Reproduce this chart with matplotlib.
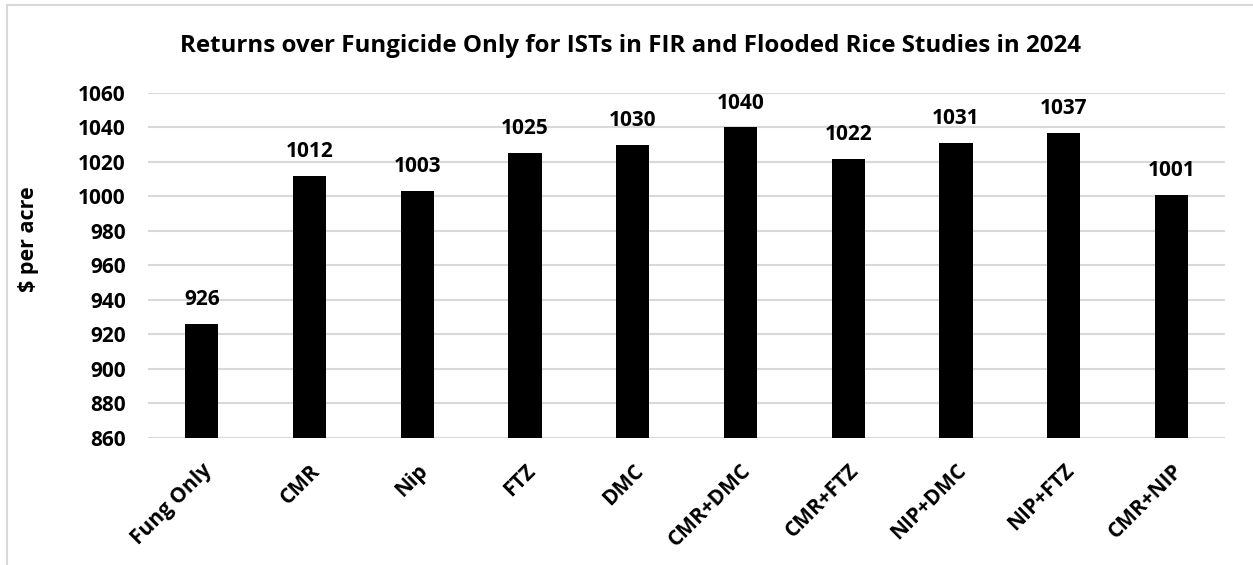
import matplotlib
matplotlib.use("Agg")
import matplotlib.pyplot as plt
from matplotlib.patches import Rectangle

categories = ["Fung Only", "CMR", "Nip", "FTZ", "DMC", "CMR+DMC",
              "CMR+FTZ", "NIP+DMC", "NIP+FTZ", "CMR+NIP"]
returns = [926, 1012, 1003, 1025, 1030, 1040, 1022, 1031, 1037, 1001]
yticks = list(range(860, 1061, 20))

plt.rcParams['font.family'] = ['Open Sans', 'DejaVu Sans']
plt.rcParams['font.weight'] = 'bold'

fig = plt.figure(figsize=(12.53, 5.65), dpi=100)
ax = fig.add_axes([0.118, 0.2248, 0.86, 0.6106])

# outer chart frame
fig.patches.append(Rectangle((7 / 1253, -0.1), 1.2, 1 - 5 / 565 + 0.1,
                             transform=fig.transFigure, fill=False,
                             edgecolor='#d9d9d9', linewidth=1.5))

x = list(range(len(categories)))
ax.bar(x, returns, width=0.31, color='black', zorder=3)
for xi, v in zip(x, returns):
    ax.annotate(f"{v}", (xi, v), xytext=(0, 10), textcoords='offset points',
                ha='center', va='bottom', fontsize=15, fontweight='bold')

ax.set_xlim(-0.5, len(categories) - 0.5)
ax.set_ylim(860, 1060)
ax.set_yticks(yticks)
ax.set_yticklabels([str(t) for t in yticks], fontsize=15, fontweight='bold')
ax.set_xticks(x)
ax.set_xticklabels(categories, rotation=45, ha='right', rotation_mode='anchor',
                   fontsize=15, fontweight='bold')
ax.tick_params(axis='y', length=0, pad=16)
ax.tick_params(axis='x', length=0, pad=16)
ax.grid(axis='y', color='#d9d9d9', linewidth=1.5, zorder=0)
for s in ax.spines.values():
    s.set_visible(False)

ax.set_ylabel("$ per acre", fontsize=15.5, fontweight='bold')
ax.yaxis.set_label_coords(-0.101, 0.575)
fig.suptitle("Returns over Fungicide Only for ISTs in FIR and Flooded Rice Studies in 2024",
             x=0.503, y=0.94, fontsize=17.4, fontweight='bold')

fig.savefig("out.png", dpi=100)
